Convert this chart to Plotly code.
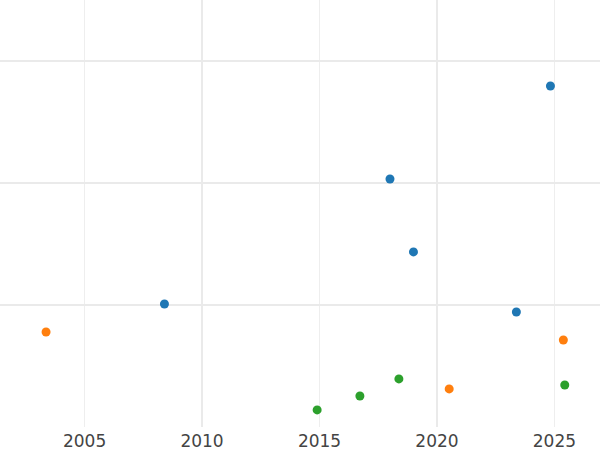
import plotly.graph_objects as go

blue_x = [2024.83, 2018.0, 2019.0, 2008.4, 2023.38]
blue_y = [27.95, 20.33, 14.35, 10.08, 9.43]
orange_x = [2003.36, 2025.38, 2020.52]
orange_y = [7.79, 7.13, 3.12]
green_x = [2014.9, 2016.72, 2018.38, 2025.44]
green_y = [1.40, 2.54, 3.94, 3.44]

series = [
    ("A", blue_x, blue_y, "#1f77b4"),
    ("B", orange_x, orange_y, "#ff7f0e"),
    ("C", green_x, green_y, "#2ca02c"),
]

x_range = [2001.4, 2026.94]
y_range = [0, 35]

fig = go.Figure()
for name, xs, ys, col in series:
    fig.add_trace(go.Scatter(x=xs, y=ys, mode="markers", name=name,
                             marker=dict(size=9, color=col)))

# invisible trace to attach the overlaid major-grid axis
fig.add_trace(go.Scatter(x=[x_range[0]], y=[y_range[0]], xaxis="x2", mode="markers",
                         marker=dict(opacity=0), showlegend=False, hoverinfo="skip"))

fig.update_layout(
    width=600, height=450,
    margin=dict(l=0, r=0, t=0, b=23),
    paper_bgcolor="white", plot_bgcolor="white",
    showlegend=False,
    font=dict(family="DejaVu Sans", size=17, color="#444444"),
    xaxis=dict(range=x_range, dtick=5, tick0=2005, showgrid=True, gridcolor="#eeeeee",
               gridwidth=1, zeroline=False, showline=False, ticks="", ticklabelstandoff=2),
    xaxis2=dict(range=x_range, overlaying="x", dtick=10, tick0=2010, showgrid=True,
                gridcolor="#eaeaea", gridwidth=2, showticklabels=False, zeroline=False,
                showline=False, ticks="", side="bottom"),
    yaxis=dict(range=y_range, dtick=10, showgrid=True, gridcolor="#eaeaea", gridwidth=2,
               showticklabels=False, zeroline=False, showline=False, ticks=""),
)

fig.write_html("out.html", config={"displayModeBar": False},
               post_script="document.body.style.margin='0px';")
